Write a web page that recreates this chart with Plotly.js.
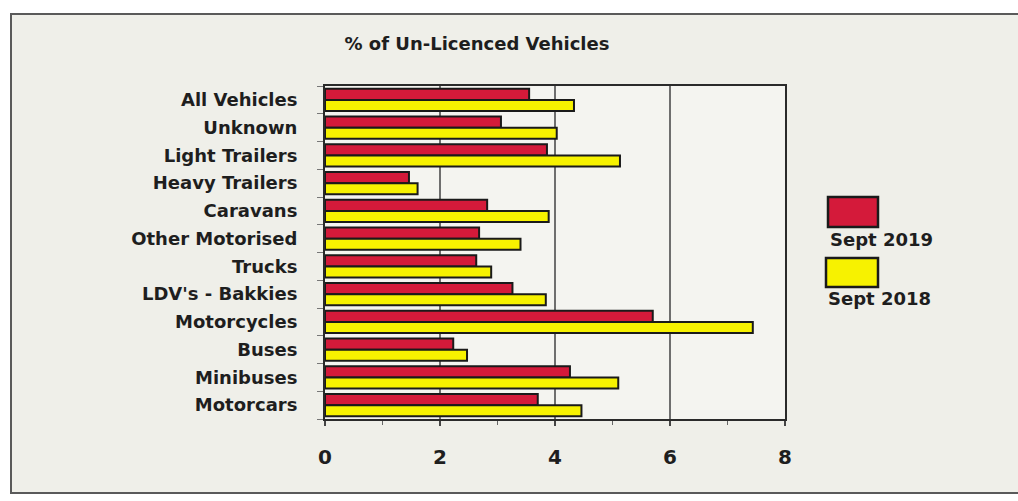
<!DOCTYPE html>
<html>
<head>
<meta charset="utf-8">
<script src="https://cdn.plot.ly/plotly-3.0.1.min.js"></script>
<style>
  html, body { margin: 0; padding: 0; background: #ffffff; }
  #wrap { position: relative; width: 1018px; height: 501px; overflow: hidden; background: #ffffff; }
  #frame { position: absolute; left: 10px; top: 13px; width: 1020px; height: 481px; border: 2px solid #5a5a5a; background: #efefe9; box-sizing: border-box; }
  #chart { position: absolute; left: 0; top: 0; width: 1018px; height: 501px; }
</style>
</head>
<body>
<div id="wrap">
  <div id="frame"></div>
  <div id="chart"></div>
</div>
<script>
const categories = ["All Vehicles", "Unknown", "Light Trailers", "Heavy Trailers", "Caravans",
  "Other Motorised", "Trucks", "LDV's - Bakkies", "Motorcycles", "Buses", "Minibuses", "Motorcars"];
const seriesNames = ["Sept 2019", "Sept 2018"];
const sept2019 = [3.55, 3.06, 3.86, 1.46, 2.82, 2.68, 2.63, 3.26, 5.7, 2.23, 4.26, 3.7];
const sept2018 = [4.33, 4.03, 5.13, 1.61, 3.89, 3.4, 2.89, 3.84, 7.44, 2.47, 5.1, 4.46];
const xTicks = [0, 2, 4, 6, 8];
const chartTitle = "% of Un-Licenced Vehicles";

const colors = ["#d41a3a", "#f7f200"];
const fontFam = "DejaVu Sans, Liberation Sans, Arial, sans-serif";

const traces = [sept2019, sept2018].map((vals, i) => ({
  type: "bar",
  orientation: "h",
  name: seriesNames[i],
  y: categories,
  x: vals,
  marker: { color: colors[i], line: { color: "#1a1a1a", width: 2 } },
  hoverinfo: "x+name",
  showlegend: false
}));

// plot area geometry for the manual legend
const L = 325, R = 233, T = 86, B = 82, W = 1018, H = 501;
const pw = W - L - R, ph = H - T - B;
const px = v => (v - L) / pw;
const py = v => (H - B - v) / ph;

const legendBoxes = [
  { x0: 828, x1: 878, y0: 197, y1: 227, ty: 239 },
  { x0: 826, x1: 878, y0: 258, y1: 287, ty: 298 }
];

const shapes = legendBoxes.map((b, i) => ({
  type: "rect", xref: "paper", yref: "paper",
  x0: px(b.x0), x1: px(b.x1), y0: py(b.y1), y1: py(b.y0),
  fillcolor: colors[i], line: { color: "#1a1a1a", width: 2.5 }
}));

const annotations = legendBoxes.map((b, i) => ({
  xref: "paper", yref: "paper", x: px(b.x0), y: py(b.ty),
  xanchor: "left", yanchor: "middle", showarrow: false,
  text: "<b>" + seriesNames[i] + "</b>",
  font: { family: fontFam, size: 18, color: "#1e1e1e" }
}));

const layout = {
  width: W, height: H,
  margin: { l: L, r: R, t: T, b: B, pad: 0 },
  paper_bgcolor: "rgba(0,0,0,0)",
  plot_bgcolor: "#f4f4f0",
  barmode: "group",
  bargap: 0.2,
  bargroupgap: 0,
  title: {
    text: "<b>" + chartTitle + "</b>",
    x: 477 / W, xref: "container", xanchor: "center",
    y: 1 - 44 / H, yref: "container", yanchor: "middle",
    font: { family: fontFam, size: 18, color: "#1e1e1e" }
  },
  xaxis: {
    range: [0, 8],
    tickvals: xTicks,
    ticktext: xTicks.map(v => "<b>" + v + "</b>"),
    showgrid: true, gridcolor: "#6e6e6e", gridwidth: 2,
    zeroline: false,
    showline: true, linecolor: "#2a2a2a", linewidth: 2, mirror: true,
    ticks: "outside", ticklen: 5, tickcolor: "#444", tickwidth: 1.5,
    minor: { dtick: 1, ticks: "outside", ticklen: 4, tickcolor: "#666", showgrid: false },
    ticklabelstandoff: 14,
    tickfont: { family: fontFam, size: 20, color: "#1e1e1e" },
    fixedrange: true
  },
  yaxis: {
    type: "category",
    autorange: "reversed",
    showgrid: false, zeroline: false,
    showline: true, linecolor: "#2a2a2a", linewidth: 2, mirror: true,
    ticks: "outside", tickson: "boundaries", ticklen: 6, tickcolor: "#777", tickwidth: 1,
    ticklabelstandoff: 22,
    tickfont: { family: fontFam, size: 18, color: "#1e1e1e" },
    tickvals: categories,
    ticktext: categories.map(c => "<b>" + c + "</b>"),
    fixedrange: true
  },
  shapes: shapes,
  annotations: annotations
};

Plotly.newPlot("chart", traces, layout, { staticPlot: true, displayModeBar: false });
</script>
</body>
</html>
